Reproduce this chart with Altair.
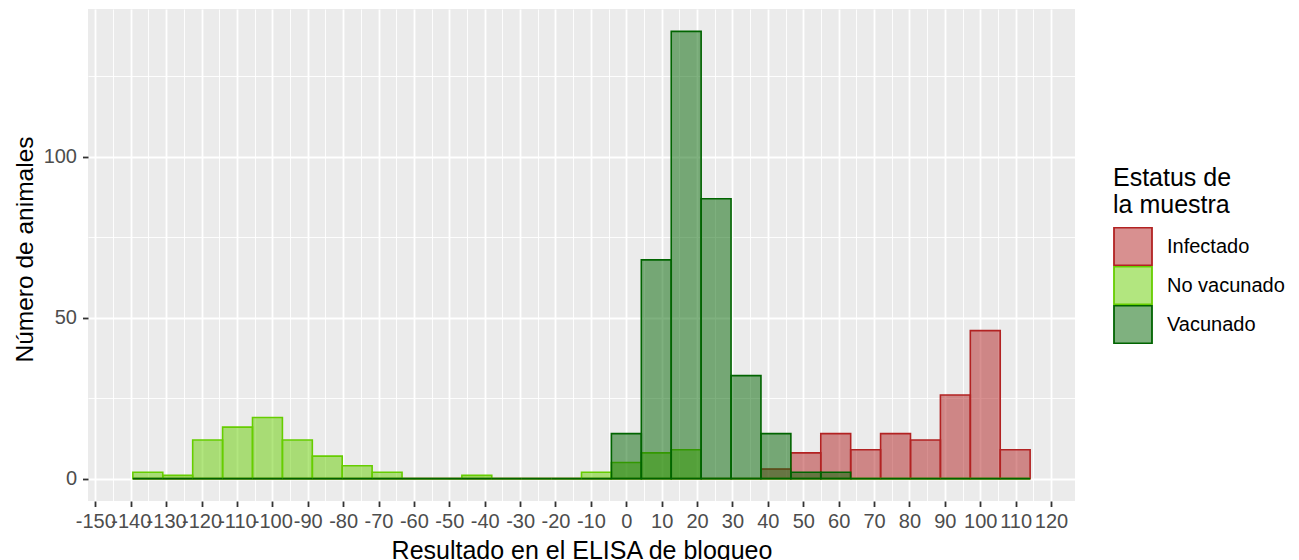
import altair as alt
import pandas as pd

# Bin edges of the histogram (30 bins)
bin_edges = [-139.40, -130.95, -122.50, -114.05, -105.60, -97.15, -88.70, -80.25,
             -71.80, -63.35, -54.90, -46.45, -38.00, -29.55, -21.10, -12.65,
             -4.20, 4.25, 12.70, 21.15, 29.60, 38.05, 46.50, 54.95, 63.40,
             71.85, 80.30, 88.75, 97.20, 105.65, 114.10]

grupos = ["Infectado", "No vacunado", "Vacunado"]

infectado = [0, 0, 0, 0, 0, 0, 0, 0, 0, 0, 0, 0, 0, 0, 0, 0, 0, 0, 0, 0, 0,
             3, 8, 14, 9, 14, 12, 26, 46, 9]
no_vacunado = [2, 1, 12, 16, 19, 12, 7, 4, 2, 0, 0, 1, 0, 0, 0, 2, 5, 8, 9, 0,
               0, 0, 0, 0, 0, 0, 0, 0, 0, 0]
vacunado = [0, 0, 0, 0, 0, 0, 0, 0, 0, 0, 0, 0, 0, 0, 0, 0, 14, 68, 139, 87,
            32, 14, 2, 2, 0, 0, 0, 0, 0, 0]

x_ticks = [-150, -145, -140, -135, -130, -125, -120, -115, -110, -105, -100, -95,
           -90, -85, -80, -75, -70, -65, -60, -55, -50, -45, -40, -35, -30, -25,
           -20, -15, -10, -5, 0, 5, 10, 15, 20, 25, 30, 35, 40, 45, 50, 55, 60,
           65, 70, 75, 80, 85, 90, 95, 100, 105, 110, 115, 120]
y_ticks = [0, 25, 50, 75, 100, 125]

fill_colors = ["rgba(178,34,34,0.5)", "rgba(102,205,0,0.5)", "rgba(0,100,0,0.5)"]
stroke_colors = ["#B22222", "#66CD00", "#006400"]

rows = []
for g, counts in zip(grupos, [infectado, no_vacunado, vacunado]):
    for i, c in enumerate(counts):
        rows.append({"grupo": g, "x0": bin_edges[i], "x1": bin_edges[i + 1],
                     "n": c, "base": 0})
df = pd.DataFrame(rows)

FONT = "Liberation Sans"
legend_title = ["Estatus de", "la muestra"]

major10 = "datum.value % 10 === 0"
major50 = "datum.value % 50 === 0"

x_axis = alt.Axis(
    values=x_ticks,
    title="Resultado en el ELISA de bloqueo",
    labelExpr=f"{major10} ? '' + datum.value : ''",
    labelOverlap=False,
    labelFlush=False,
    labelFontSize=20,
    labelColor="#4D4D4D",
    labelFont=FONT,
    labelPadding=5,
    tickColor="#333333",
    tickWidth=1.8,
    tickSize=5.5,
    tickOpacity={"condition": {"test": major10, "value": 1}, "value": 0},
    grid=True,
    gridColor="white",
    gridWidth={"condition": {"test": major10, "value": 1.8}, "value": 0.9},
    domain=False,
    titleFontSize=25,
    titleFont=FONT,
    titleFontWeight="normal",
    titleColor="black",
    titleBaseline="alphabetic",
    titleY=57,
)

y_axis = alt.Axis(
    values=y_ticks,
    title="Número de animales",
    labelExpr=f"{major50} ? '' + datum.value : ''",
    labelOverlap=False,
    labelFlush=False,
    labelFontSize=20,
    labelColor="#4D4D4D",
    labelFont=FONT,
    labelPadding=6,
    tickColor="#333333",
    tickWidth=1.8,
    tickSize=5.5,
    tickOpacity={"condition": {"test": major50, "value": 1}, "value": 0},
    grid=True,
    gridColor="white",
    gridWidth={"condition": {"test": major50, "value": 1.8}, "value": 0.9},
    domain=False,
    titleFontSize=24.5,
    titleFont=FONT,
    titleFontWeight="normal",
    titleColor="black",
    titleBaseline="alphabetic",
    titleX=-55.7,
    titleY=240,
)

legend = alt.Legend(
    title=legend_title,
    orient="none",
    legendX=1025,
    legendY=157,
    titleFontSize=25,
    titleFont=FONT,
    titleFontWeight="normal",
    titleColor="black",
    titleLineHeight=27,
    titlePadding=9,
    labelFontSize=20,
    labelFont=FONT,
    labelColor="black",
    labelOffset=14,
    symbolType="square",
    symbolSize=1444,
    symbolStrokeWidth=1.8,
    clipHeight=39,
    rowPadding=0,
    padding=0,
)

chart = alt.Chart(df).mark_rect(strokeWidth=1.6).encode(
    x=alt.X("x0:Q", scale=alt.Scale(domain=[-152.075, 126.775], nice=False, zero=False),
            axis=x_axis),
    x2="x1:Q",
    y=alt.Y("n:Q", scale=alt.Scale(domain=[-6.95, 145.95], nice=False, zero=False),
            axis=y_axis),
    y2="base:Q",
    fill=alt.Fill("grupo:N", scale=alt.Scale(domain=grupos, range=fill_colors), legend=legend),
    stroke=alt.Stroke("grupo:N", scale=alt.Scale(domain=grupos, range=stroke_colors), legend=legend),
).properties(
    width=987,
    height=492,
    padding={"left": 80, "top": 1, "right": 216, "bottom": 59},
    autosize="none",
).configure(background="white").configure_view(fill="#EBEBEB", stroke=None)

chart.save("out.html", embed_options={"renderer": "svg", "actions": False})
